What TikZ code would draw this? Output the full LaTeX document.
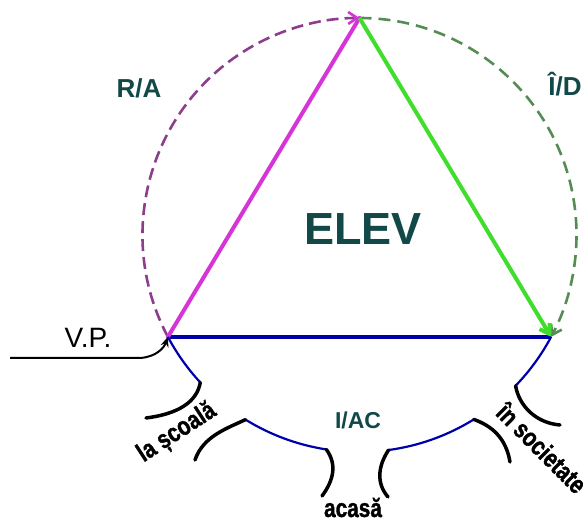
\documentclass[tikz,border=0pt]{standalone}
\usepackage{fontspec}
\setmainfont{Liberation Sans}
\newfontfamily\heavyfont{Liberation Sans Bold}[FakeBold=1.5]
\usepackage{graphicx}
\usepackage{xcolor}
\usetikzlibrary{arrows.meta,positioning,calc}

\definecolor{elevteal}{RGB}{18,72,72}
\definecolor{ramag}{RGB}{214,52,214}
\definecolor{radash}{RGB}{140,62,140}
\definecolor{idgreen}{RGB}{64,222,44}
\definecolor{iddash}{RGB}{84,140,84}
\definecolor{iacblue}{RGB}{0,0,170}

\newcommand{\narrowtxt}[1]{\scalebox{0.8}[1]{#1}}

\begin{document}
\begin{tikzpicture}[x=1pt,y=1pt,
    lbl/.style={font=\bfseries, text=elevteal},
    place/.style={font=\heavyfont\fontsize{26}{30}\selectfont, inner sep=1pt},
    funnel/.style={black, line width=3.5pt, line cap=round},
    barb/.style={-{Straight Barb[length=9pt,width=12pt]}}]
    \useasboundingbox (0,0) rectangle (586,518);

    % Circle and triangle corners
    \coordinate (C) at (359.5,283);
    \coordinate (A) at ($(C)+(208:217)$);
    \coordinate (T) at ($(C)+(90:217)$);
    \coordinate (R) at ($(C)+(332:217)$);

    % Dashed arcs
    \draw[radash, line width=2.6pt, dash pattern=on 12pt off 6pt,
        -{Straight Barb[length=9pt,width=12pt,color=ramag]}]
        (A) arc[start angle=208, end angle=90, radius=217];
    \draw[iddash, line width=2.6pt, dash pattern=on 12pt off 7pt,
        -{Straight Barb[length=9pt,width=12pt]}]
        (T) arc[start angle=90, end angle=-28, radius=217];

    % Triangle
    \draw[iacblue, line width=4pt] (A) -- (R);
    \draw[ramag, line width=4pt, line cap=round] (A) -- (T);
    \draw[idgreen, line width=4pt, barb] (T) -- (R);

    % Bottom arc with openings
    \coordinate (s1) at ($(C)+(222.8:217)$);
    \coordinate (s2) at ($(C)+(238.3:217)$);
    \coordinate (a1) at ($(C)+(261.2:217)$);
    \coordinate (a2) at ($(C)+(277.7:217)$);
    \coordinate (n1) at ($(C)+(301.8:217)$);
    \coordinate (n2) at ($(C)+(316:217)$);
    \draw[iacblue, line width=2.2pt] (A) arc[start angle=208, end angle=222.8, radius=217];
    \draw[iacblue, line width=2.2pt] (s2) arc[start angle=238.3, end angle=261.2, radius=217];
    \draw[iacblue, line width=2.2pt] (a2) arc[start angle=277.7, end angle=301.8, radius=217];
    \draw[iacblue, line width=2.2pt] (n2) arc[start angle=316, end angle=332, radius=217];

    % Funnels
    \draw[funnel] (s1) .. controls (197,116) and (178,104) .. (146,100);
    \draw[funnel] (s2) .. controls (228,90) and (203,82) .. (195,58);
    \draw[funnel] (a1) .. controls (337,54) and (334,38) .. (322,22);
    \draw[funnel] (a2) .. controls (378,52) and (376,35) .. (388,21);
    \draw[funnel] (n1) .. controls (492,92) and (506,80) .. (510,56);
    \draw[funnel] (n2) .. controls (519,112) and (536,95) .. (560,93);

    % Labels
    \node[lbl, font=\bfseries\fontsize{45}{50}\selectfont] (elev) at (363,289) {ELEV};
    \node[lbl, font=\bfseries\fontsize{26}{30}\selectfont] (ra) at (139,430) {R/A};
    \node[lbl, font=\bfseries\fontsize{26}{30}\selectfont] (id) at (565,434) {Î/D};
    \node[lbl, font=\bfseries\fontsize{23}{27}\selectfont] (iac) at (358,98) {I/AC};
    \node[place, rotate=33] (scoala) at (177,85) {\narrowtxt{la școală}};
    \node[place, anchor=base] (acasa) at (353,1) {\narrowtxt{acasă}};
    \node[place, rotate=-45] (societate) at (542,70) {\narrowtxt{în societate}};
    \node[font=\fontsize{28}{32}\selectfont] (vp) at (88,180) {V.P.};

    % V.P. arrow
    \coordinate (vpstart) at (10,160);
    \draw[black, line width=2pt, -{Stealth[length=10pt,width=8pt]}]
        (vpstart) -- (140,160) .. controls (156,161) and (164,170) .. (A);
\end{tikzpicture}
\end{document}
